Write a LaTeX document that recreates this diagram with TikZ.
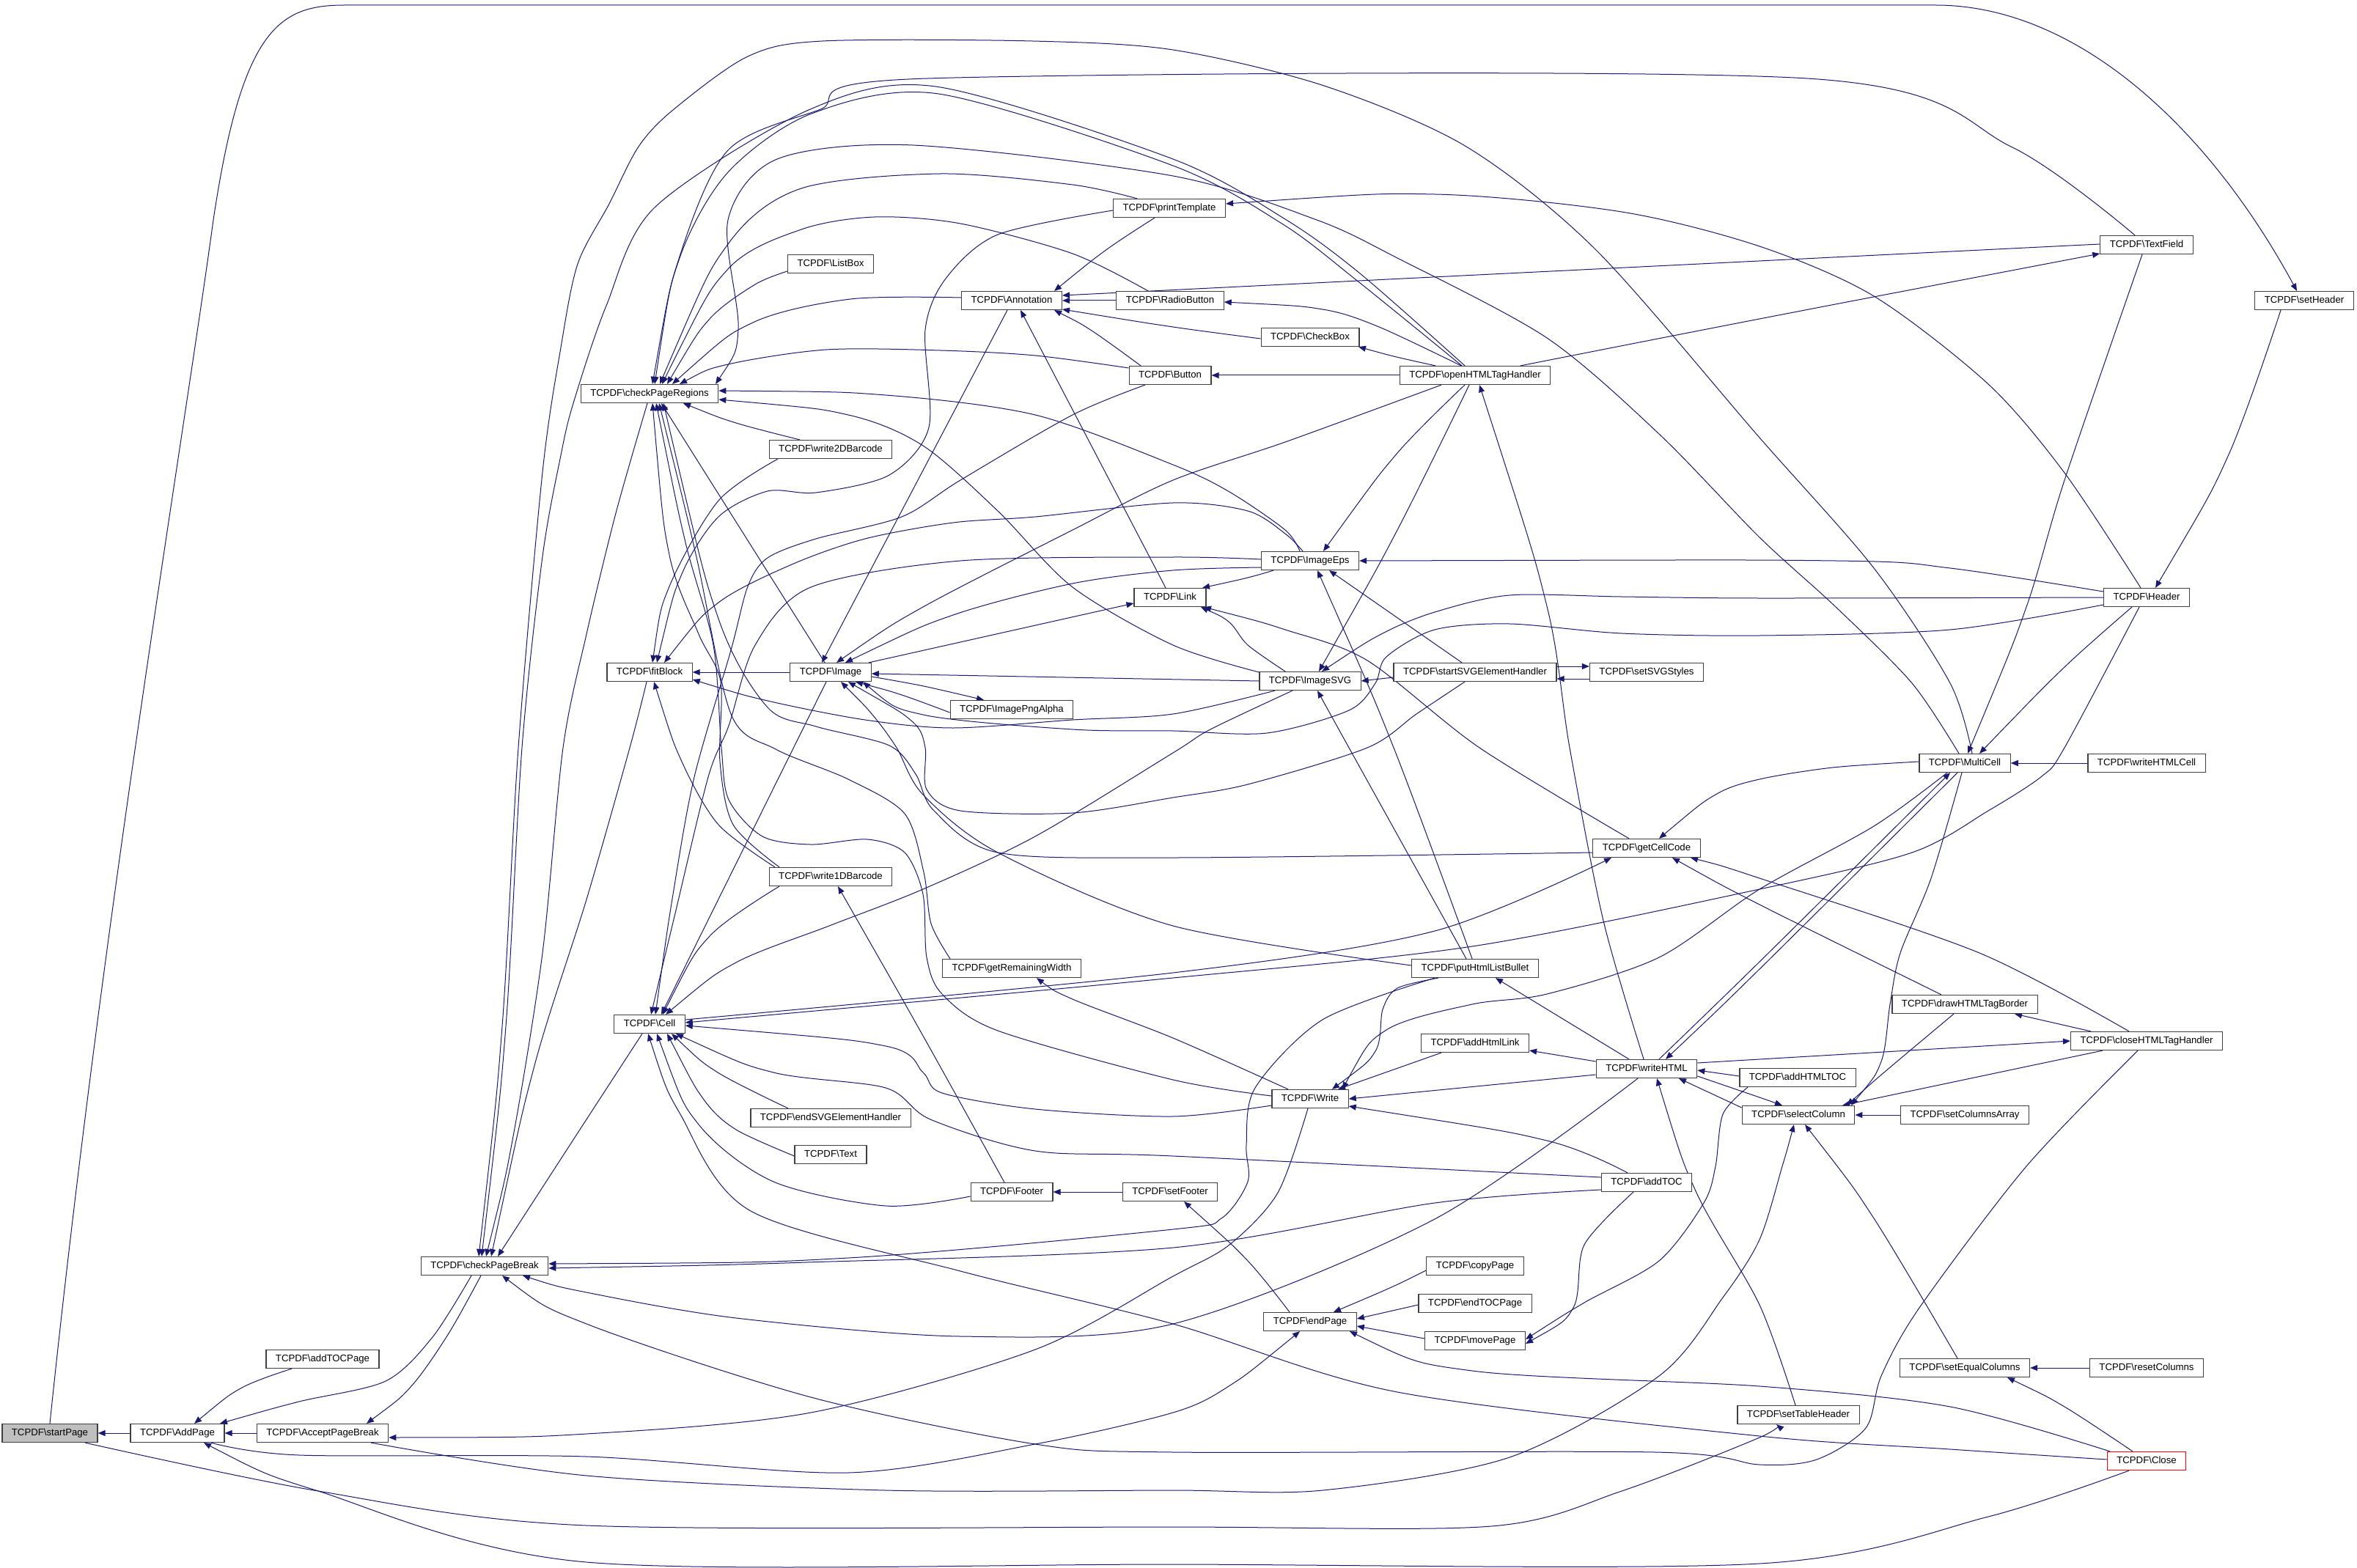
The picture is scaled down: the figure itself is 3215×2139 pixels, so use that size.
\documentclass[tikz,border=0pt]{standalone}
\usepackage{fontspec}
\setmainfont{Liberation Sans}
\usetikzlibrary{arrows.meta}
\definecolor{edgeblue}{RGB}{25,25,112}
\pgfdeclarelayer{bg}
\pgfsetlayers{bg,main}
\newcommand{\tcp}{TCPDF\textbackslash}
\tikzset{
  nd/.style={draw=black!75, fill=white, line width=0.6pt, inner xsep=6.5pt, inner ysep=0pt,
    minimum height=12.5pt, text height=4.8pt, text depth=1.3pt, font=\fontsize{6.6}{7.9}\selectfont},
  edb/.style={draw=edgeblue, line width=0.5pt},
  eL/.style={edb, {Triangle[length=5pt,width=4pt]}-},
  eR/.style={edb, -{Triangle[length=5pt,width=4pt]}},
}
\begin{document}
\begin{tikzpicture}[x=0.5pt,y=-0.5pt]
\useasboundingbox (0,0) rectangle (3215,2139);
% nodes
\node[nd,fill=black!25] (sp) at (68,1955) {\tcp startPage};
\node[nd] (ap) at (242,1955) {\tcp AddPage};
\node[nd] (apb) at (440,1955) {\tcp AcceptPageBreak};
\node[nd] (atp) at (440,1854) {\tcp addTOCPage};
\node[nd] (cpb) at (661,1727) {\tcp checkPageBreak};
\node[nd] (cpr) at (886,537) {\tcp checkPageRegions};
\node[nd] (lb) at (1133,360) {\tcp ListBox};
\node[nd] (w2d) at (1133,613) {\tcp write2DBarcode};
\node[nd] (fb) at (886,917) {\tcp fitBlock};
\node[nd] (img) at (1133,917) {\tcp Image};
\node[nd] (w1d) at (1133,1196) {\tcp write1DBarcode};
\node[nd] (cell) at (886,1397) {\tcp Cell};
\node[nd] (esvg) at (1133,1525) {\tcp endSVGElementHandler};
\node[nd] (txt) at (1133,1575) {\tcp Text};
\node[nd] (foot) at (1380,1626) {\tcp Footer};
\node[nd] (grw) at (1380,1321) {\tcp getRemainingWidth};
\node[nd] (ipa) at (1380,968) {\tcp ImagePngAlpha};
\node[nd] (ann) at (1380,410) {\tcp Annotation};
\node[nd] (pt) at (1595,284) {\tcp printTemplate};
\node[nd] (rb) at (1596,410) {\tcp RadioButton};
\node[nd] (btn) at (1596,512) {\tcp Button};
\node[nd] (lnk) at (1596,815) {\tcp Link};
\node[nd] (cb) at (1787,460) {\tcp CheckBox};
\node[nd] (eps) at (1787,765) {\tcp ImageEps};
\node[nd] (svg) at (1787,929) {\tcp ImageSVG};
\node[nd] (oh) at (2012,512) {\tcp openHTMLTagHandler};
\node[nd] (ssvg) at (2012,917) {\tcp startSVGElementHandler};
\node[nd] (sss) at (2246,917) {\tcp setSVGStyles};
\node[nd] (phb) at (2012,1321) {\tcp putHtmlListBullet};
\node[nd] (ahl) at (2012,1423) {\tcp addHtmlLink};
\node[nd] (wr) at (1787,1499) {\tcp Write};
\node[nd] (sf) at (1596,1626) {\tcp setFooter};
\node[nd] (ep) at (1787,1803) {\tcp endPage};
\node[nd] (cp) at (2012,1727) {\tcp copyPage};
\node[nd] (etp) at (2012,1778) {\tcp endTOCPage};
\node[nd] (mp) at (2012,1829) {\tcp movePage};
\node[nd] (gcc) at (2246,1157) {\tcp getCellCode};
\node[nd] (wh) at (2246,1458) {\tcp writeHTML};
\node[nd] (atoc) at (2246,1613) {\tcp addTOC};
\node[nd] (ahtoc) at (2452,1470) {\tcp addHTMLTOC};
\node[nd] (sc) at (2453,1521) {\tcp selectColumn};
\node[nd] (sth) at (2453,1930) {\tcp setTableHeader};
\node[nd] (tf) at (2928,334) {\tcp TextField};
\node[nd] (sh) at (3143,410) {\tcp setHeader};
\node[nd] (hd) at (2928,815) {\tcp Header};
\node[nd] (mc) at (2680,1041) {\tcp MultiCell};
\node[nd] (whc) at (2928,1041) {\tcp writeHTMLCell};
\node[nd] (dhb) at (2680,1370) {\tcp drawHTMLTagBorder};
\node[nd] (ch) at (2928,1420) {\tcp closeHTMLTagHandler};
\node[nd] (sca) at (2680,1521) {\tcp setColumnsArray};
\node[nd] (sec) at (2680,1866) {\tcp setEqualColumns};
\node[nd] (rc) at (2928,1866) {\tcp resetColumns};
\node[nd,draw=red] (cl) at (2928,1993) {\tcp Close};

\begin{pgfonlayer}{bg}
\fill[white] (0,0) rectangle (3215,2139);
% startPage / AddPage
\draw[eL] (sp.east) -- (ap.west);
\draw[eR] (sp.north) .. controls (140,1250) and (250,600) .. (291,300) .. controls (330,40) and (380,7) .. (470,7) -- (2640,7) .. controls (2830,7) and (3010,170) .. ([xshift=-5pt]sh.north);
\draw[eL] plot[smooth] coordinates {([xshift=11.5pt]ap.north) (330,1893) ([xshift=-21pt]atp.south)};
\draw[eL] plot[smooth] coordinates {([xshift=29pt]ap.north) (408,1912) (526,1884) (590,1824) ([xshift=-9pt]cpb.south)};
\draw[eL] (ap.east) -- (apb.west);
\draw[eL] plot[smooth] coordinates {([xshift=30pt]apb.north) (561,1891) (612,1819) ([xshift=-2.5pt]cpb.south)};
\draw[eL] plot[smooth] coordinates {([xshift=18pt]ap.south) (434,2034) (800,2131) (1600,2134) (2400,2133) (2712,2069) ([xshift=-12pt]cl.south)};
\draw[eR] plot[smooth] coordinates {([xshift=24pt]sp.south) (434,2034) (800,2081) (1600,2083) (2034,2082) (2212,2034) (2400,1961) ([xshift=-15pt]sth.south)};
% checkPageBreak
\draw[eL] plot[smooth] coordinates {([yshift=1.5pt]cpb.east) (1157,1716) (1600,1677) (1666,1662) (1702,1612) (1700,1562) (1712,1484) (1804,1391) ([xshift=-27.5pt]phb.south)};
\draw[eL] plot[smooth] coordinates {([yshift=-1.5pt]cpb.east) (1100,1722) (1600,1702) (1957,1641) ([yshift=-5pt]atoc.west)};
\draw[eL] plot[smooth] coordinates {([xshift=26pt]cpb.south) (800,1763) (1004,1798) (1310,1823) (1600,1806) (1957,1663) ([xshift=-6pt]wh.south)};
\draw[eL] plot[smooth] coordinates {([xshift=12pt]cpb.south) (800,1806) (1106,1906) (1412,1970) (1600,1981) (2258,1981) (2400,1998) (2478,1991) (2545,1948) (2566,1877) (2618,1784) (2764,1591) ([xshift=-6pt]ch.south)};
\draw[eL] plot[smooth] coordinates {([xshift=9pt]cpb.north) (800,1527) ([xshift=-5pt]cell.south)};
\draw[eL] plot[smooth] coordinates {([xshift=4.5pt]cpb.north) (730,1450) (800,1227) (859,1020) ([xshift=-2pt]fb.south)};
\draw[eL] plot[smooth] coordinates {([xshift=1pt]cpb.north) (700,1550) (740,1300) (768,1020) (800,865) (840,700) ([xshift=-1.5pt]cpr.south)};
\draw[eL] plot[smooth] coordinates {([xshift=-2pt]cpb.north) (690,1400) (712,1020) (740,759) (765,621) (782,550) (827,417) (893,283) (1103,150) (1276,118) (1600,217) (1753,299) (1855,373) ([xshift=-7pt]oh.north)};
\draw[eL] plot[smooth] coordinates {([xshift=-4pt]cpb.north) (685,1400) (707,1020) (740,644) (765,474) (788,360) (831,278) (871,200) (918,150) (1020,77) (1122,56) (1408,56) (1600,68) (1806,117) (2000,200) (2177,341) (2400,597) (2556,775) (2660,932) ([xshift=5pt]mc.north)};
% checkPageRegions
\draw[eL] plot[smooth] coordinates {([xshift=45pt]cpr.north) (1007,450) (993,300) (1060,217) (1245,198) (1600,240) (1796,300) (1906,352) (2110,461) (2263,592) (2400,733) (2504,828) (2608,932) ([xshift=-4pt]mc.north)};
\draw[eL] plot[smooth] coordinates {([xshift=2pt]cpr.north) (927,350) (993,205) (1117,150) (1265,107) (2465,107) (2743,200) ([xshift=-8pt]tf.north)};
\draw[eL] plot[smooth] coordinates {([xshift=3.5pt]cpr.north) (927,352) (993,235) (1107,155) (1280,128) (1600,226) (1750,306) (1850,382) ([xshift=-9pt]oh.north)};
\draw[eL] plot[smooth] coordinates {([xshift=7pt]cpr.north) (993,333) (1093,257) (1283,237) (1463,252) ([xshift=-22pt]pt.north)};
\draw[eL] plot[smooth] coordinates {([xshift=8.5pt]cpr.north) (993,367) (1093,313) (1193,296) (1310,305) (1463,346) ([xshift=-15pt]rb.north)};
\draw[eL] plot[smooth] coordinates {([xshift=12pt]cpr.north) (968,435) (1030,388) ([yshift=-5pt]lb.west)};
\draw[eL] plot[smooth] coordinates {([xshift=15.5pt]cpr.north) (1027,440) (1160,408) ([yshift=2pt]ann.west)};
\draw[eL] plot[smooth] coordinates {([xshift=20.5pt]cpr.north) (993,497) (1127,477) (1283,478) (1412,485) ([yshift=5pt]btn.west)};
\draw[eL] plot[smooth] coordinates {([yshift=2pt]cpr.east) (1208,539) (1412,566) (1600,634) (1677,671) (1753,723) ([xshift=-7pt]eps.north)};
\draw[eL] plot[smooth] coordinates {([yshift=-4pt]cpr.east) (1157,566) (1259,608) (1361,697) (1463,801) (1600,880) ([yshift=6pt]svg.west)};
\draw[eL] plot[smooth] coordinates {([xshift=23pt]cpr.south) (1004,577) ([xshift=-21pt]w2d.north)};
\draw[eL] ([xshift=8pt]cpr.south) -- ([xshift=-4pt]img.north);
\draw[eL] plot[smooth] coordinates {([xshift=2pt]cpr.south) (913,757) (953,865) (983,930) (982,1039) (1000,1125) ([xshift=-35pt]w1d.north)};
\draw[eL] plot[smooth] coordinates {([xshift=4.5pt]cpr.south) (935,740) (973,880) (984,1020) (994,1091) (1040,1141) (1106,1152) (1183,1145) (1234,1163) (1259,1220) (1264,1306) (1285,1356) (1361,1406) (1600,1473) ([yshift=2pt]wr.west)};
\draw[eL] plot[smooth] coordinates {([xshift=6.5pt]cpr.south) (950,760) (997,974) (1058,1022) (1157,1063) (1234,1110) (1260,1190) (1270,1260) ([xshift=-42pt]grw.north)};
\draw[eL] plot[smooth] coordinates {([xshift=9.5pt]cpr.south) (980,844) (1047,965) (1113,991) (1213,1017) (1249,1056) (1274,1106) (1361,1163) (1600,1170) ([yshift=-3pt]gcc.west)};
% fitBlock
\draw[eL] (fb.east) -- (img.west);
\draw[eL] plot[smooth] coordinates {([xshift=2pt]fb.north) (913,800) (980,683) ([xshift=-36pt]w2d.south)};
\draw[eL] plot[smooth] coordinates {([xshift=5pt]fb.north) (930,783) (980,705) (1047,670) (1113,672) (1213,648) (1267,583) (1262,450) (1290,380) (1361,320) ([yshift=-1.5pt]pt.west)};
\draw[eL] plot[smooth] coordinates {([xshift=10pt]fb.north) (980,822) (1080,770) (1180,735) (1300,713) (1412,705) (1600,686) (1702,697) (1753,728) ([xshift=-5pt]eps.north)};
\draw[eL] plot[smooth] coordinates {([yshift=-5pt]fb.east) (1047,956) (1180,982) (1300,993) (1463,982) (1600,974) ([xshift=-24pt]svg.south)};
\draw[eL] plot[smooth] coordinates {([xshift=3pt]fb.south) (930,1039) (980,1125) ([xshift=-38pt]w1d.north)};
% Image
\draw[eL] ([xshift=-6pt]img.north) -- ([xshift=-3pt]ann.south);
\draw[eL] plot[smooth] coordinates {([xshift=4pt]img.north) (1259,828) (1463,723) (1600,655) (1753,603) ([xshift=-23pt]oh.south)};
\draw[eL] plot[smooth] coordinates {([xshift=10pt]img.north) (1300,839) (1463,796) (1600,778) ([yshift=-4.5pt]eps.west)};
\draw[eR] ([xshift=26pt]img.north) -- ([yshift=-4pt]lnk.west);
\draw[eL] ([yshift=-1pt]img.east) -- (svg.west);
\draw[eL] plot[smooth] coordinates {([xshift=17pt]img.south) (1230,948) ([yshift=-2pt]ipa.west)};
\draw[eR] plot[smooth] coordinates {([yshift=-3pt]img.east) (1260,936) ([xshift=-19pt]ipa.north)};
\draw[eL] plot[smooth] coordinates {([xshift=22pt]img.south) (1259,975) (1463,995) (1600,997) (1728,1000) (1840,969) (1876,932) (1891,896) (1957,859) (2059,851) (2212,864) (2400,867) (2660,859) ([yshift=-5pt]hd.west)};
\draw[eL] plot[smooth] coordinates {([xshift=7pt]img.south) (1190,975) (1223,1020) (1259,1084) (1361,1163) (1600,1263) ([yshift=2pt]phb.west)};
\draw[eL] plot[smooth] coordinates {([xshift=12pt]img.south) (1244,984) (1262,1020) (1264,1077) (1310,1106) (1463,1109) (1600,1088) (1702,1070) (1865,1020) (1932,974) ([xshift=-7pt]ssvg.south)};
% Cell
\draw[eL] ([xshift=8pt]cell.north) -- ([xshift=-3pt]img.south);
\draw[eL] plot[smooth] coordinates {([xshift=9pt]cell.north) (968,1277) ([xshift=-35pt]w1d.south)};
\draw[eL] plot[smooth] coordinates {([xshift=4pt]cell.north) (918,1220) (947,1060) (997,887) (1020,800) (1047,761) (1113,735) (1230,705) (1310,655) (1463,566) ([xshift=-17pt]btn.south)};
\draw[eL] plot[smooth] coordinates {([xshift=1pt]cell.north) (920,1250) (966,1060) (994,990) (1030,880) (1106,801) (1310,765) (1600,760) ([yshift=1pt]eps.west)};
\draw[eL] plot[smooth] coordinates {([xshift=11pt]cell.north) (1004,1313) (1131,1263) (1259,1213) (1412,1141) (1600,1027) (1651,995) ([xshift=-12pt]svg.south)};
\draw[eL] plot[smooth] coordinates {([yshift=-1pt]cell.east) (1208,1427) (1259,1463) (1285,1491) (1412,1513) (1600,1523) ([yshift=-4.5pt]wr.west)};
\draw[eL] plot[smooth] coordinates {([xshift=18pt]cell.south) (1055,1463) (1208,1484) (1269,1527) (1412,1570) (1600,1577) ([yshift=3.5pt]atoc.west)};
\draw[eL] plot[smooth] coordinates {([xshift=15pt]cell.south) (979,1463) ([xshift=-29pt]esvg.north)};
\draw[eL] plot[smooth] coordinates {([xshift=12pt]cell.south) (960,1500) (1004,1541) ([yshift=-1pt]txt.west)};
\draw[eL] plot[smooth] coordinates {([xshift=5pt]cell.south) (953,1534) (1055,1612) (1208,1645) ([yshift=-3pt]foot.west)};
\draw[eL] plot[smooth] coordinates {([xshift=-1pt]cell.south) (928,1520) (1024,1652) (1310,1734) (1600,1806) (1906,1899) (2400,1959) (2660,1977) ([yshift=1pt]cl.west)};
\draw[eL] plot[smooth] coordinates {([yshift=1pt]cell.east) (1600,1334) (2008,1291) (2400,1213) (2608,1163) (2712,1106) (2785,1059) (2816,1020) ([xshift=-5pt]hd.south)};
\draw[eR] plot[smooth] coordinates {([yshift=3pt]cell.east) (1600,1327) (1957,1270) ([xshift=-24pt]gcc.south)};
% Annotation and form fields
\draw[eL] plot[smooth] coordinates {([xshift=29pt]ann.north) (1510,340) ([xshift=-10pt]pt.south)};
\draw[eL] ([yshift=3.5pt]ann.east) -- ([yshift=0.5pt]tf.west);
\draw[eL] (ann.east) -- (rb.west);
\draw[eL] plot[smooth] coordinates {([yshift=-6pt]ann.east) (1600,446) ([yshift=-1pt]cb.west)};
\draw[eL] plot[smooth] coordinates {([xshift=29pt]ann.south) (1489,451) ([xshift=-20pt]btn.north)};
\draw[eL] ([xshift=6pt]ann.south) -- ([xshift=-3pt]lnk.north);
\draw[eL] plot[smooth] coordinates {([yshift=-1pt]rb.east) (1804,422) (1881,446) ([xshift=-9.5pt]oh.north)};
\draw[eL] plot[smooth] coordinates {([xshift=33pt]cb.south) (1905,487) ([xshift=-27pt]oh.north)};
\draw[eL] (btn.east) -- (oh.west);
\draw[eL] plot[smooth] coordinates {([yshift=-6pt]tf.west) (2400,435) ([xshift=31pt]oh.north)};
% Header / MultiCell / TextField
\draw[eL] plot[smooth] coordinates {([xshift=2pt]mc.north) (2764,828) (2816,655) ([xshift=-3pt]tf.south)};
\draw[eL] plot[smooth] coordinates {([xshift=10pt]mc.north) (2816,910) ([xshift=-10pt]hd.south)};
\draw[eL] plot[smooth] coordinates {([xshift=6pt]hd.north) (3040,620) ([xshift=-16pt]sh.south)};
\draw[eL] plot[smooth] coordinates {([yshift=3pt]pt.east) (1957,265) (2212,289) (2400,336) (2556,404) (2712,524) (2816,645) ([xshift=-4pt]hd.north)};
\draw[eL] plot[smooth] coordinates {(eps.east) (2504,765) (2660,775) ([yshift=4pt]hd.west)};
\draw[eL] plot[smooth] coordinates {([xshift=8pt]svg.north) (1886,864) (1957,835) (2059,812) (2212,814) (2400,816) (hd.west)};
\draw[eL] (mc.east) -- (whc.west);
\draw[eL] plot[smooth] coordinates {([xshift=8.5pt]gcc.north) (2340,1084) (2400,1063) (2500,1047) ([yshift=1pt]mc.west)};
\draw[eL] plot[smooth] coordinates {([xshift=22pt]wr.north) (1891,1405) (2008,1370) (2110,1356) (2263,1306) (2400,1213) (2556,1127) ([xshift=-12pt]mc.south)};
\draw[eL] plot[smooth] coordinates {([xshift=-10pt]mc.south) (2400,1312) ([xshift=8.5pt]wh.north)};
\draw[eL] plot[smooth] coordinates {([xshift=13pt]wh.north) (2400,1322) ([xshift=-5pt]mc.south)};
\draw[eL] plot[smooth] coordinates {([xshift=36pt]sc.north) (2566,1448) (2578,1370) (2592,1300) (2634,1198) ([xshift=-2pt]mc.south)};
% Link
\draw[eL] plot[smooth] coordinates {([xshift=22pt]lnk.north) (1702,788) ([xshift=-25pt]eps.south)};
\draw[eL] plot[smooth] coordinates {([xshift=21pt]lnk.south) (1677,849) (1702,880) ([xshift=-17pt]svg.north)};
\draw[eL] plot[smooth] coordinates {([xshift=23pt]lnk.south) (1753,859) (1865,901) (2018,1020) ([xshift=-12pt]gcc.north)};
% ImageEps / ImageSVG
\draw[eL] plot[smooth] coordinates {([xshift=9pt]eps.north) (1906,618) ([xshift=-7pt]oh.south)};
\draw[eL] plot[smooth] coordinates {([xshift=5pt]eps.south) (1901,1020) ([xshift=-2pt]phb.north)};
\draw[eL] ([xshift=13pt]eps.south) -- ([xshift=-9pt]ssvg.north);
\draw[eL] plot[smooth] coordinates {([xshift=6pt]svg.north) (1906,723) ([xshift=-4pt]oh.south)};
\draw[eL] plot[smooth] coordinates {([xshift=5pt]svg.south) (1840,1020) ([xshift=-6pt]phb.north)};
\draw[eL] (svg.east) -- ([yshift=-3.5pt]ssvg.west);
\draw[eR] ([yshift=4pt]ssvg.east) -- ([yshift=4pt]sss.west);
\draw[eL] ([yshift=-4.5pt]ssvg.east) -- ([yshift=-4.5pt]sss.west);
% openHTMLTagHandler, putHtmlListBullet, addHtmlLink, Write
\draw[eL] plot[smooth] coordinates {([xshift=3pt]oh.south) (2110,827) (2141,1020) (2187,1256) ([xshift=-2pt]wh.north)};
\draw[eL] ([xshift=14pt]phb.south) -- ([xshift=-12pt]wh.north);
\draw[eL] plot[smooth] coordinates {([xshift=15pt]wr.north) (1876,1434) (1886,1377) (1906,1348) ([xshift=-25pt]phb.south)};
\draw[eL] ([yshift=-5pt]ahl.east) -- ([yshift=5pt]wh.west);
\draw[eL] ([xshift=19pt]wr.north) -- ([xshift=-23pt]ahl.south);
\draw[eL] (wr.east) -- ([yshift=-4pt]wh.west);
\draw[eL] plot[smooth] coordinates {([yshift=-5pt]wr.east) (2110,1556) ([xshift=-13pt]atoc.north)};
\draw[eL] plot[smooth] coordinates {([xshift=17pt]grw.south) (1463,1363) (1600,1416) ([xshift=-15pt]wr.north)};
\draw[eL] plot[smooth] coordinates {([yshift=-3pt]apb.east) (800,1956) (1106,1927) (1412,1841) (1600,1741) (1677,1698) (1743,1627) ([xshift=-1.5pt]wr.south)};
% Footer / endPage
\draw[eL] (foot.east) -- (sf.west);
\draw[eL] plot[smooth] coordinates {([xshift=5pt]w1d.south) (1259,1413) ([xshift=-5pt]foot.north)};
\draw[eL] plot[smooth] coordinates {([xshift=9.5pt]sf.south) (1702,1720) ([xshift=-14pt]ep.north)};
\draw[eL] plot[smooth] coordinates {([xshift=-7pt]ep.south) (1676,1891) (1600,1927) (1412,1970) (1157,2009) (800,1987) (408,1985) ([xshift=23pt]ap.south)};
\draw[eL] plot[smooth] coordinates {([xshift=27pt]ep.south) (2008,1870) (2400,1891) (2660,1919) ([xshift=-25pt]cl.north)};
\draw[eL] plot[smooth] coordinates {([xshift=16pt]ep.north) (1900,1755) ([yshift=-3pt]cp.west)};
\draw[eL] ([yshift=2pt]ep.east) -- ([yshift=-1pt]etp.west);
\draw[eL] ([yshift=-3pt]ep.east) -- ([yshift=1.5pt]mp.west);
\draw[eL] plot[smooth] coordinates {([yshift=-2pt]mp.east) (2146,1784) (2161,1698) ([xshift=-9pt]atoc.south)};
\draw[eL] plot[smooth] coordinates {([yshift=1pt]mp.east) (2161,1777) (2263,1720) (2324,1641) (2340,1591) (2350,1520) ([xshift=-34pt]ahtoc.south)};
% writeHTML
\draw[eL] plot[smooth] coordinates {([xshift=7pt]wh.south) (2314,1627) (2400,1780) ([xshift=-2pt]sth.north)};
\draw[eR] plot[smooth] coordinates {([yshift=4pt]wh.east) (2400,1445) (ch.west)};
\draw[eL] ([yshift=-1pt]wh.east) -- ([yshift=1pt]ahtoc.west);
\draw[eR] plot[smooth] coordinates {([yshift=-5pt]wh.east) (2400,1497) ([xshift=-11pt]sc.north)};
\draw[eL] ([xshift=22pt]wh.south) -- ([yshift=5pt]sc.west);
% selectColumn etc.
\draw[eL] (sc.east) -- (sca.west);
\draw[eL] plot[smooth] coordinates {([xshift=4.5pt]sc.south) (2556,1662) ([xshift=-5pt]sec.north)};
\draw[eL] plot[smooth] coordinates {([xshift=33pt]sc.north) (2571,1462) ([xshift=-7.5pt]dhb.south)};
\draw[eL] ([xshift=30pt]sc.north) -- ([xshift=-30pt]ch.south);
\draw[eL] plot[smooth] coordinates {([xshift=34pt]dhb.south) (2800,1395) ([xshift=-38pt]ch.north)};
\draw[eL] plot[smooth] coordinates {([xshift=17.5pt]gcc.south) (2400,1234) ([xshift=-16pt]dhb.north)};
\draw[eL] plot[smooth] coordinates {([xshift=30pt]gcc.south) (2400,1198) (2700,1300) ([xshift=-12pt]ch.north)};
\draw[eL] plot[smooth] coordinates {([xshift=-3pt]sc.south) (2431,1591) (2400,1691) (2350,1770) (2263,1877) (2059,1988) (1804,2033) (1600,2033) (1208,2033) (800,2013) ([xshift=33pt]apb.south)};
\draw[eL] (sec.east) -- (rc.west);
\draw[eL] plot[smooth] coordinates {([xshift=29pt]sec.south) (2816,1919) ([xshift=-9.5pt]cl.north)};
\end{pgfonlayer}
\end{tikzpicture}
\end{document}
